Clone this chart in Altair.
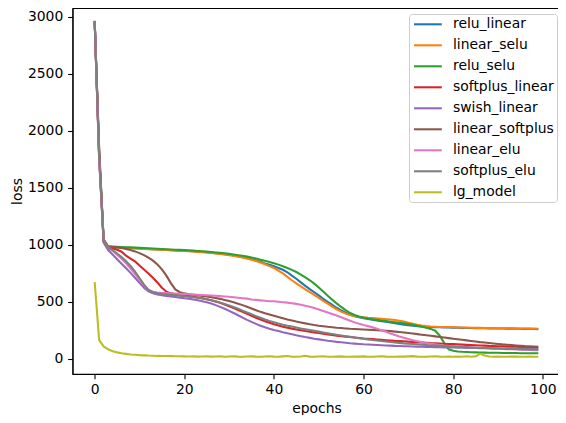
import altair as alt
import pandas as pd

epochs = list(range(100))

series_names = ["relu_linear", "linear_selu", "relu_selu", "softplus_linear",
                "swish_linear", "linear_softplus", "linear_elu", "softplus_elu", "lg_model"]
series_colors = ["#1f77b4", "#ff7f0e", "#2ca02c", "#d62728", "#9467bd",
                 "#8c564b", "#e377c2", "#7f7f7f", "#bcbd22"]

x_ticks = [0, 20, 40, 60, 80, 100]
y_ticks = [0, 500, 1000, 1500, 2000, 2500, 3000]

relu_linear = [2960, 1800, 1045, 985, 982, 979, 976, 974, 972, 970,
               968, 966, 964, 962, 960, 958, 956, 954, 952, 950,
               948, 946, 944, 941, 938, 935, 932, 928, 924, 919,
               913, 907, 900, 892, 884, 875, 864, 852, 838, 825,
               812, 798, 782, 760, 731, 703, 672, 641, 612, 585,
               557, 528, 500, 474, 449, 426, 405, 388, 375, 365,
               357, 350, 344, 338, 332, 326, 320, 313, 307, 301,
               296, 292, 288, 285, 283, 281, 279, 278, 277, 276,
               275, 274, 273, 272, 271, 270, 270, 269, 268, 268,
               267, 267, 266, 266, 265, 265, 264, 264, 263, 262]

linear_selu = [2965, 1780, 1040, 983, 980, 977, 975, 973, 971, 969,
               967, 965, 963, 961, 959, 957, 955, 953, 951, 949,
               947, 945, 942, 939, 936, 933, 929, 925, 920, 915,
               910, 904, 897, 889, 880, 870, 858, 845, 830, 814,
               797, 775, 750, 720, 690, 662, 636, 610, 585, 561,
               536, 510, 485, 459, 436, 415, 398, 385, 376, 370,
               365, 361, 358, 355, 352, 349, 346, 342, 336, 328,
               318, 308, 300, 293, 288, 285, 283, 281, 280, 279,
               278, 277, 276, 275, 274, 273, 273, 272, 271, 271,
               270, 269, 269, 268, 268, 267, 267, 266, 266, 265]

relu_selu = [2958, 1820, 1050, 988, 986, 984, 982, 980, 978, 976,
             974, 972, 970, 968, 966, 964, 962, 960, 958, 956,
             954, 952, 950, 947, 944, 941, 938, 934, 930, 926,
             921, 916, 910, 904, 897, 889, 880, 870, 860, 850,
             840, 827, 813, 798, 781, 762, 740, 715, 690, 660,
             627, 591, 555, 520, 487, 456, 428, 403, 386, 373,
             363, 355, 349, 343, 337, 332, 327, 322, 317, 312,
             306, 299, 291, 283, 274, 264, 248, 205, 140, 85,
             72, 66, 63, 61, 59, 58, 57, 56, 55, 55,
             54, 53, 53, 52, 52, 51, 51, 51, 50, 50]

softplus_linear = [2962, 1790, 1040, 978, 970, 958, 940, 905, 880, 855,
                   820, 785, 750, 712, 670, 625, 590, 575, 567, 561,
                   556, 551, 545, 539, 532, 524, 515, 504, 492, 478,
                   462, 446, 430, 413, 396, 379, 362, 346, 331, 317,
                   304, 293, 283, 274, 266, 259, 252, 245, 239, 233,
                   227, 221, 215, 210, 205, 200, 196, 192, 188, 184,
                   180, 177, 174, 171, 168, 165, 162, 159, 157, 155,
                   152, 150, 147, 145, 143, 140, 138, 136, 134, 132,
                   130, 128, 126, 124, 122, 120, 118, 117, 115, 114,
                   112, 111, 109, 108, 107, 105, 104, 103, 102, 101]

swish_linear = [2960, 1750, 1020, 955, 915, 875, 835, 795, 755, 712,
                668, 625, 592, 576, 566, 559, 553, 548, 543, 538,
                533, 528, 522, 515, 507, 497, 486, 472, 457, 440,
                422, 403, 383, 363, 343, 325, 308, 292, 278, 266,
                255, 245, 235, 226, 217, 208, 200, 192, 185, 178,
                172, 166, 160, 155, 150, 146, 142, 138, 135, 132,
                129, 127, 125, 123, 121, 119, 117, 115, 114, 112,
                111, 110, 108, 107, 106, 105, 104, 103, 102, 101,
                100, 99, 98, 97, 96, 96, 95, 94, 94, 93,
                92, 92, 91, 91, 90, 90, 89, 89, 88, 88]

linear_softplus = [2955, 1850, 1030, 985, 982, 978, 972, 965, 955, 943,
                   928, 910, 888, 862, 828, 785, 730, 665, 610, 585,
                   575, 568, 563, 558, 553, 548, 542, 535, 527, 518,
                   508, 497, 485, 472, 458, 443, 428, 413, 401, 390,
                   379, 368, 357, 346, 337, 328, 320, 312, 305, 298,
                   292, 287, 282, 278, 274, 271, 268, 265, 263, 261,
                   259, 257, 255, 253, 250, 247, 244, 240, 236, 232,
                   228, 223, 218, 213, 208, 203, 198, 193, 188, 183,
                   178, 173, 168, 163, 158, 153, 148, 144, 140, 136,
                   132, 128, 125, 122, 119, 116, 113, 111, 109, 107]

linear_elu = [2963, 1770, 1035, 978, 948, 914, 878, 838, 793, 745,
              695, 647, 606, 589, 583, 579, 577, 575, 573, 571,
              569, 567, 565, 563, 561, 559, 557, 554, 551, 548,
              545, 541, 537, 533, 529, 522, 518, 514, 510, 506,
              506, 502, 498, 494, 489, 483, 476, 467, 457, 446,
              434, 421, 408, 395, 381, 366, 350, 335, 321, 308,
              297, 288, 278, 266, 252, 238, 224, 211, 198, 186,
              175, 165, 156, 148, 140, 134, 128, 123, 118, 114,
              111, 108, 106, 104, 102, 100, 98, 96, 94, 92,
              90, 88, 86, 85, 83, 81, 80, 79, 77, 76]

softplus_elu = [2961, 1760, 1030, 975, 955, 925, 893, 857, 815, 765,
                710, 652, 605, 585, 576, 570, 566, 562, 558, 554,
                550, 546, 541, 536, 530, 523, 515, 505, 494, 482,
                470, 455, 440, 424, 408, 392, 376, 361, 347, 334,
                322, 311, 301, 292, 284, 276, 268, 261, 254, 247,
                240, 233, 226, 219, 212, 206, 200, 194, 188, 182,
                177, 172, 167, 162, 157, 153, 149, 145, 141, 137,
                134, 131, 128, 125, 122, 119, 117, 115, 113, 111,
                109, 107, 105, 103, 101, 99, 97, 96, 94, 93,
                92, 90, 89, 88, 87, 86, 85, 84, 83, 82]

lg_model = [675, 165, 110, 85, 68, 58, 50, 45, 40, 37,
            34, 32, 30, 29, 27, 26, 26, 25, 24, 24,
            23, 22, 23, 21, 22, 24, 21, 22, 23, 20,
            22, 24, 21, 20, 22, 23, 21, 20, 22, 24,
            21, 20, 23, 26, 20, 19, 22, 28, 21, 20,
            22, 24, 20, 19, 21, 23, 20, 19, 22, 21,
            23, 20, 19, 22, 24, 21, 20, 19, 22, 21,
            23, 25, 21, 20, 19, 22, 24, 21, 20, 22,
            19, 21, 20, 24, 19, 23, 45, 30, 22, 20,
            21, 19, 20, 22, 21, 20, 19, 21, 20, 20]

all_series = [relu_linear, linear_selu, relu_selu, softplus_linear, swish_linear,
              linear_softplus, linear_elu, softplus_elu, lg_model]

rows = []
for idx, (name, vals) in enumerate(zip(series_names, all_series)):
    for e, v in zip(epochs, vals):
        rows.append({"epoch": e, "loss": v, "series": name, "z": idx})
df = pd.DataFrame(rows)

FONT = "DejaVu Sans"
FS = 13.9

chart = alt.Chart(df).mark_line(strokeWidth=2.08).encode(
    x=alt.X("epoch:Q",
            scale=alt.Scale(domain=[-4.95, 103.95], nice=False, zero=False),
            axis=alt.Axis(values=x_ticks, title="epochs", labelPadding=4,
                          format="d", titlePadding=5)),
    y=alt.Y("loss:Q",
            scale=alt.Scale(domain=[-131.5, 3076], nice=False, zero=False),
            axis=alt.Axis(values=y_ticks, labelPadding=4.86,
                          title="loss", format="d", titlePadding=3)),
    color=alt.Color("series:N",
                    scale=alt.Scale(domain=series_names, range=series_colors),
                    legend=alt.Legend(orient="none", legendX=336.5, legendY=6,
                                      title=None, symbolType="M-2,0H2",
                                      symbolStrokeWidth=2.08, symbolSize=193,
                                      symbolOffset=8.6,
                                      labelFontSize=FS, labelFont=FONT,
                                      labelColor="black", rowPadding=6,
                                      padding=2.3, strokeColor="#cccccc",
                                      cornerRadius=3, fillColor="white",
                                      labelOffset=17.1, labelLimit=300)),
    order=alt.Order("epoch:Q"),
).properties(
    width=488, height=366,
    autosize=alt.AutoSizeParams(type="none"),
    padding={"left": 64.5, "top": 0, "right": -2.5, "bottom": 41},
).configure_view(
    stroke="black", strokeWidth=1.1
).configure_axis(
    grid=False, domainColor="black", tickColor="black", labelColor="black",
    titleColor="black", labelFont=FONT, titleFont=FONT, labelFontSize=FS,
    titleFontSize=FS, titleFontWeight="normal", tickSize=4.86,
    domainWidth=1.1, tickWidth=1.1
)

chart.save("out.html", embed_options={"renderer": "svg", "actions": False})
